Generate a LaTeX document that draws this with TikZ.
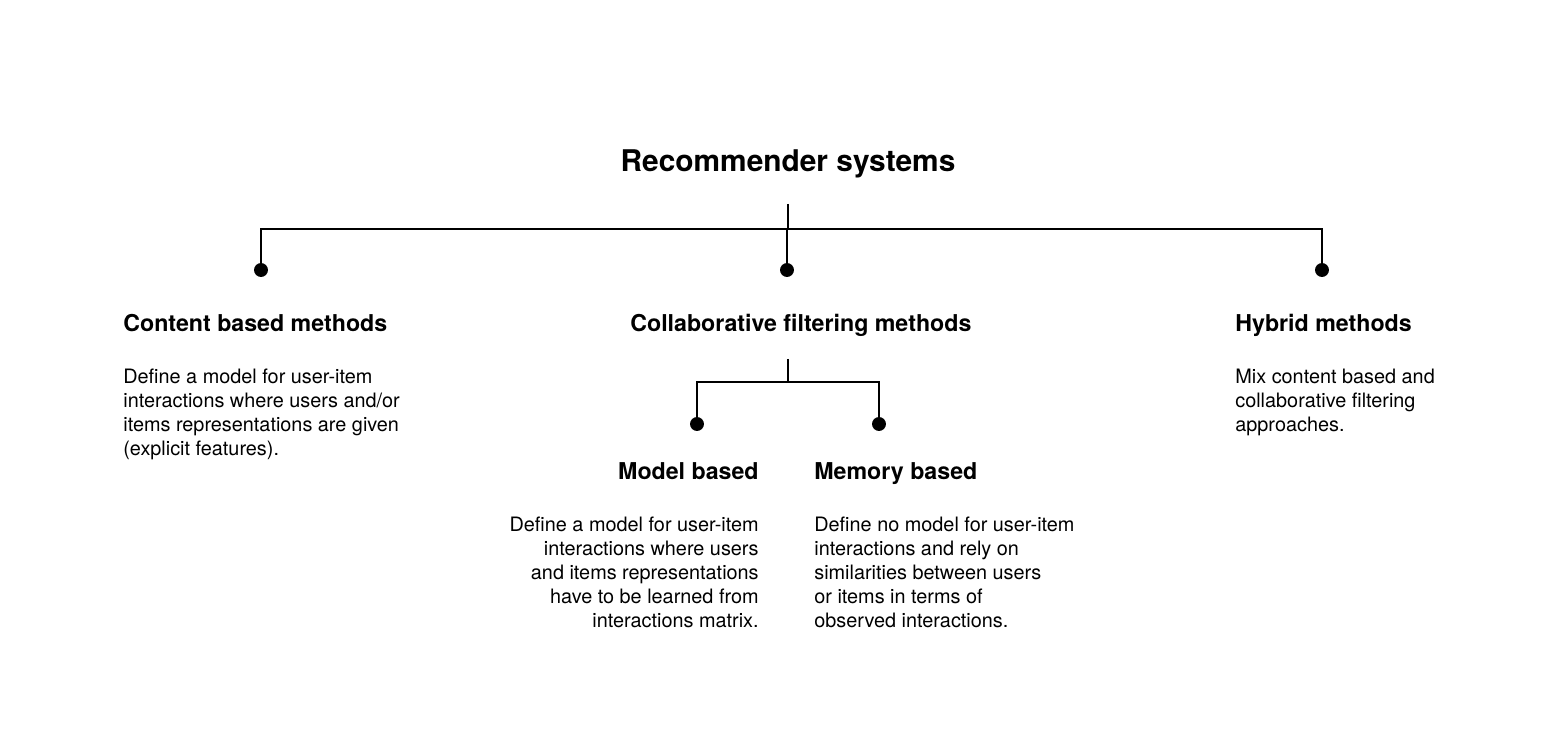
\documentclass[tikz,border=0pt]{standalone}
\usepackage{fontspec}
\setmainfont{TeX Gyre Heros}
\usepackage{tikz}
\usetikzlibrary{arrows,shapes}
\tikzstyle{dot}=[circle,fill=black,minimum size=14pt*0.5669,inner sep=0pt]
\tikzstyle{edge} = [draw,line width=1.1pt,-]
\tikzstyle{title}=[font=\fontsize{17}{20}\selectfont\bfseries,inner sep=0pt,anchor=base]
\tikzstyle{heading}=[font=\fontsize{13.2}{15}\selectfont\bfseries,inner sep=0pt]
\tikzstyle{desc}=[font=\fontsize{11.3}{13.6}\selectfont,inner sep=0pt]

\begin{document}
\begin{tikzpicture}[x=0.02cm,y=-0.02cm]
    \useasboundingbox (0,0) rectangle (1566,756);
    % Title and junctions of the tree
    \node[title] (rs) at (788,172) {Recommender systems};
    \coordinate (rstop) at (788,204);
    \coordinate (rsj) at (788,229);
    \coordinate (cftop) at (788,359);
    \coordinate (cfj) at (788,382);

    % First we draw the dots
    \foreach \pos/\name in {{(261,270)/cb}, {(787,270)/cf}, {(1322,270)/hy}, {(697,424)/mo}, {(879,424)/me}}
        \node[dot] (\name) at \pos {};

    % Headings
    \node[heading,anchor=base west] (cbh) at (123,332) {Content based methods};
    \node[heading,anchor=base west] (cfh) at (630,332) {Collaborative filtering methods};
    \node[heading,anchor=base west] (hyh) at (1235,332) {Hybrid methods};
    \node[heading,anchor=base east] (moh) at (759,480) {Model based};
    \node[heading,anchor=base west] (meh) at (814,480) {Memory based};

    % Descriptions
    \node[desc,anchor=north west,align=left] (cbd) at (123,369) {Define a model for user-item\\interactions where users and/or\\items representations are given\\(explicit features).};
    \node[desc,anchor=north west,align=left] (hyd) at (1235,369) {Mix content based and\\collaborative filtering\\approaches.};
    \node[desc,anchor=north east,align=right] (mod) at (759,517) {Define a model for user-item\\interactions where users\\and items representations\\have to be learned from\\interactions matrix.};
    \node[desc,anchor=north west,align=left] (med) at (814,517) {Define no model for user-item\\interactions and rely on\\similarities between users\\or items in terms of\\observed interactions.};

    % Connect the tree
    \path[edge] (rstop) -- (rsj);
    \foreach \dest in {cb,cf,hy}
        \path[edge] (rsj) -| (\dest.center);
    \path[edge] (cftop) -- (cfj);
    \foreach \dest in {mo,me}
        \path[edge] (cfj) -| (\dest.center);
\end{tikzpicture}
\end{document}
